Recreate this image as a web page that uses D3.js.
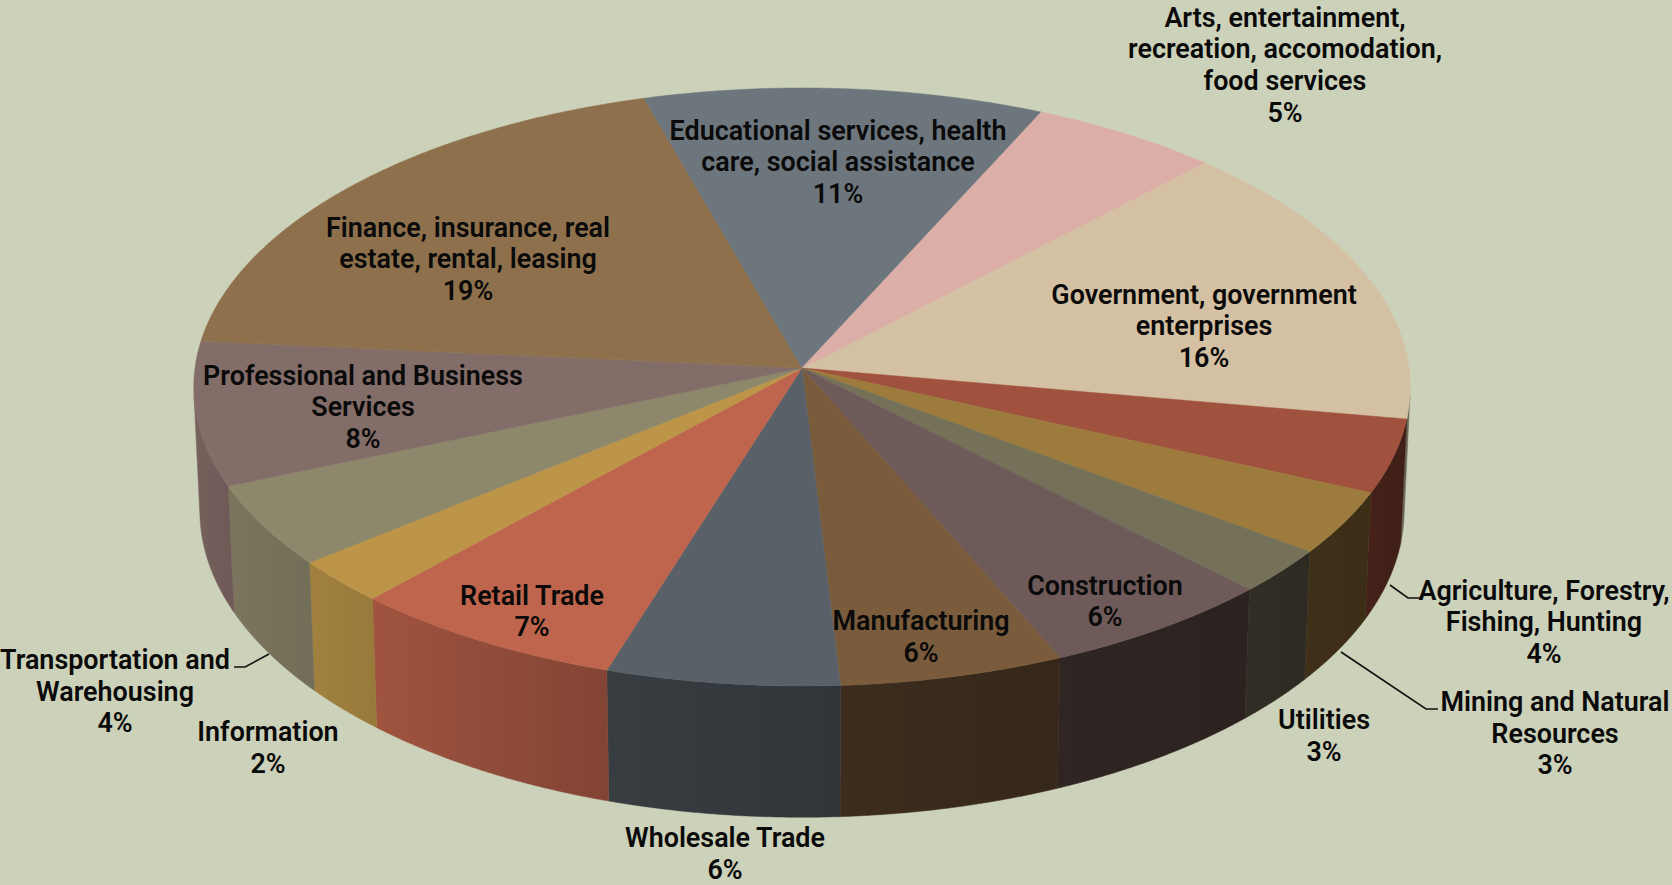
<!DOCTYPE html>
<html>
<head>
<meta charset="utf-8">
<script src="https://cdn.jsdelivr.net/npm/d3@7"></script>
<style>
html, body { margin: 0; padding: 0; background: #ccd1b9; }
svg { display: block; }
text { font-family: "Roboto", sans-serif; font-weight: 600; font-size: 26.9px; fill: #0a0a0a; text-anchor: middle; }
</style>
</head>
<body>
<script>
// shares, the printed labels are rounded in the source
var categories = [
  'Government, government enterprises',
  'Agriculture, Forestry, Fishing, Hunting',
  'Mining and Natural Resources',
  'Utilities',
  'Construction',
  'Manufacturing',
  'Wholesale Trade',
  'Retail Trade',
  'Information',
  'Transportation and Warehousing',
  'Professional and Business Services',
  'Finance, insurance, real estate, rental, leasing',
  'Educational services, health care, social assistance',
  'Arts, entertainment, recreation, accomodation, food services'
];
var shares = [15.52, 3.98, 3.42, 2.46, 5.87, 5.61, 5.83, 6.9, 2.43, 4.46, 7.77, 19.1, 11.3, 5.35];
var printed = ['16%', '4%', '3%', '3%', '6%', '6%', '6%', '7%', '2%', '4%', '8%', '19%', '11%', '5%'];
var labelLines = [
  ['Government, government', 'enterprises'],
  ['Agriculture, Forestry,', 'Fishing, Hunting'],
  ['Mining and Natural', 'Resources'],
  ['Utilities'],
  ['Construction'],
  ['Manufacturing'],
  ['Wholesale Trade'],
  ['Retail Trade'],
  ['Information'],
  ['Transportation and', 'Warehousing'],
  ['Professional and Business', 'Services'],
  ['Finance, insurance, real', 'estate, rental, leasing'],
  ['Educational services, health', 'care, social assistance'],
  ['Arts, entertainment,', 'recreation, accomodation,', 'food services']
];

var topColors = ['#d4c0a3', '#a0523e', '#9c7b3c', '#757159', '#6f5a5a', '#7a5c3c', '#596067', '#c0654d', '#bc9549', '#8d876b', '#836d69', '#8e714c', '#6d767d', '#dcaea8'];
var wallFrom = ['#6a675a', '#45211a', '#40301a', '#322e26', '#2f2523', '#3d2d1d', '#383d41', '#a0543f', '#a2813f', '#7b755d', '#76615d', '#5f4c33', '#495055', '#93746f'];
var wallTo = ['#6a675a', '#3e1f15', '#3c2d17', '#2d2a22', '#2c2321', '#35271a', '#303539', '#824434', '#987a3b', '#736e57', '#6f5a57', '#5f4c33', '#495055', '#93746f'];

// where each label's first line sits
var labelX = [1204, 1544, 1555, 1324, 1105, 921, 725, 532, 268, 115, 363, 468, 838, 1285];
var labelY = [294.5, 590.5, 702, 720, 585.5, 621, 838, 595.5, 732, 660, 375.5, 227.5, 130.5, 17.5];
var lineGap = 31.7;

var leaders = [
  [[1390, 585], [1408, 598], [1420, 598]],
  [[1341, 652], [1426, 709], [1438, 709]],
  [[269, 654], [245, 667], [234, 667]]
];

var width = 1672;
var height = 885;

// pie lying down, seen in perspective
var cx = 802, cy = 368;
var radiusX = 607, radiusY = 297.8, tilt = 0.0635;
var depth = 123, shrinkX = 0.99, shrinkY = 1.026;

function project(a, bottom) {
  var u = Math.sin(a), v = -Math.cos(a);
  var s = 1 / (1 - tilt * v);
  return [
    cx + (bottom ? shrinkX : 1) * radiusX * u * s,
    cy + (bottom ? depth : 0) + (bottom ? shrinkY : 1) * radiusY * v * s
  ];
}

// true when the side wall at angle a faces the viewer
function facing(a) {
  var p = project(a, false), q = project(a + 0.002, false), r = project(a, true);
  return (q[0] - p[0]) * (r[1] - p[1]) - (q[1] - p[1]) * (r[0] - p[0]) < 0;
}

var pie = d3.pie().sort(null).value(function(d) { return d; })
  .startAngle(43.9 * Math.PI / 180)
  .endAngle((43.9 + 360) * Math.PI / 180);
var slices = pie(shares);

var line = d3.line();

function arcAngles(d) {
  var n = Math.max(2, Math.ceil((d.endAngle - d.startAngle) / 0.004));
  return d3.range(n + 1).map(function(i) {
    return d.startAngle + (d.endAngle - d.startAngle) * i / n;
  });
}

var svg = d3.select('body').append('svg')
  .attr('width', width)
  .attr('height', height);

svg.append('rect')
  .attr('width', width)
  .attr('height', height)
  .attr('fill', '#ccd1b9');

var walls = slices.map(function(d, i) {
  return { index: i, angles: arcAngles(d).filter(facing) };
}).filter(function(d) { return d.angles.length > 1; });

var defs = svg.append('defs');
walls.forEach(function(d) {
  var xs = d.angles.map(function(a) { return project(a, false)[0]; });
  var grad = defs.append('linearGradient')
    .attr('id', 'wall' + d.index)
    .attr('gradientUnits', 'userSpaceOnUse')
    .attr('x1', d3.min(xs)).attr('x2', d3.max(xs))
    .attr('y1', 0).attr('y2', 0);
  grad.append('stop').attr('offset', 0).attr('stop-color', wallFrom[d.index]);
  grad.append('stop').attr('offset', 1).attr('stop-color', wallTo[d.index]);
});

svg.append('g').selectAll('path')
  .data(walls)
  .enter().append('path')
  .attr('d', function(d) {
    var upper = d.angles.map(function(a) { return project(a, false); });
    var lower = d.angles.slice().reverse().map(function(a) { return project(a, true); });
    return line(upper.concat(lower)) + 'Z';
  })
  .attr('fill', function(d) { return 'url(#wall' + d.index + ')'; })
  .attr('stroke', function(d) { return 'url(#wall' + d.index + ')'; })
  .attr('stroke-width', 0.5);

svg.append('g').selectAll('path')
  .data(slices)
  .enter().append('path')
  .attr('d', function(d) {
    var pts = arcAngles(d).map(function(a) { return project(a, false); });
    return line([[cx, cy]].concat(pts)) + 'Z';
  })
  .attr('fill', function(d, i) { return topColors[i]; })
  .attr('stroke', function(d, i) { return topColors[i]; })
  .attr('stroke-width', 0.5);

svg.append('g').selectAll('path')
  .data(leaders)
  .enter().append('path')
  .attr('d', line)
  .attr('fill', 'none')
  .attr('stroke', '#111')
  .attr('stroke-width', 1.6);

var labels = svg.append('g').selectAll('text')
  .data(categories)
  .enter().append('text')
  .attr('transform', function(d, i) { return 'translate(' + labelX[i] + ',' + (labelY[i] + 9) + ')'; });

labels.selectAll('tspan')
  .data(function(d, i) { return labelLines[i].concat(printed[i]); })
  .enter().append('tspan')
  .attr('x', 0)
  .attr('y', function(d, i) { return i * lineGap; })
  .text(function(d) { return d; });
</script>
</body>
</html>
